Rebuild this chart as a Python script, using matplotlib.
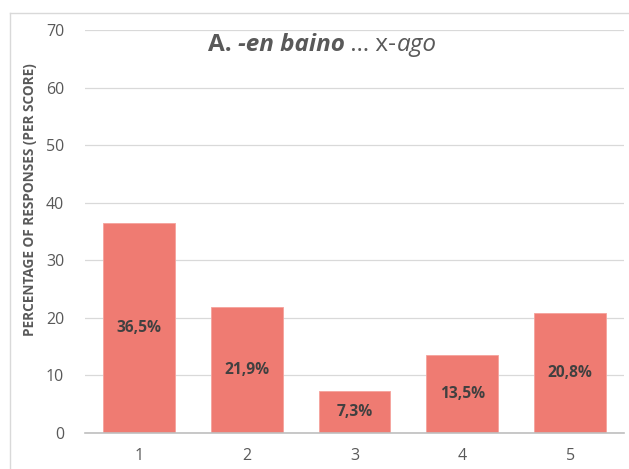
import matplotlib.pyplot as plt
from matplotlib.lines import Line2D

plt.rcParams["font.family"] = ["Open Sans", "DejaVu Sans"]

scores = ["1", "2", "3", "4", "5"]
percentages = [36.5, 21.9, 7.3, 13.5, 20.8]
bar_labels = ["36,5%", "21,9%", "7,3%", "13,5%", "20,8%"]
y_ticks = [0, 10, 20, 30, 40, 50, 60, 70]

TEXT_GREY = "#595959"
BAR_COLOR = "#EF7B72"


def main() -> None:
    fig = plt.figure(figsize=(6.29, 4.69), dpi=100)
    ax = fig.add_axes([0.1351, 0.0768, 0.8569, 0.8592])

    x = list(range(len(scores)))
    bars = ax.bar(x, percentages, width=0.667, color=BAR_COLOR,
                  edgecolor="#F5A29C", linewidth=0.6, zorder=2)

    for bar, label in zip(bars, bar_labels):
        ax.text(bar.get_x() + bar.get_width() / 2, bar.get_height() / 2,
                label, ha="center", va="center", fontsize=11.2,
                fontweight="bold", color="#404040", zorder=3)

    ax.set_xlim(-0.5, len(scores) - 0.5)
    ax.set_ylim(0, 70)
    ax.set_xticks(x)
    ax.set_xticklabels(scores)
    ax.set_yticks(y_ticks)
    ax.tick_params(axis="both", length=0, labelsize=11.5, colors=TEXT_GREY)
    ax.tick_params(axis="y", pad=15)
    ax.tick_params(axis="x", pad=11)

    ax.grid(axis="y", color="#D9D9D9", linewidth=0.9, zorder=0)
    for side in ("top", "right", "left"):
        ax.spines[side].set_visible(False)
    ax.spines["bottom"].set_color("#BFBFBF")
    ax.spines["bottom"].set_linewidth(1.2)
    ax.spines["bottom"].set_zorder(4)

    ax.set_ylabel("PERCENTAGE OF RESPONSES (PER SCORE)", fontsize=9.8,
                  fontweight="bold", color=TEXT_GREY)
    ax.yaxis.set_label_coords(-0.089, 0.578)

    # title with mixed weights / styles, placed piece by piece
    pieces = [
        ("A. ", "bold", "normal"),
        ("-en baino", "bold", "italic"),
        (" \u2026 x-", "normal", "normal"),
        ("ago", "normal", "italic"),
    ]
    renderer = fig.canvas.get_renderer()
    texts = []
    for s, weight, style in pieces:
        t = fig.text(0, 0.903, s, fontsize=17.5, fontweight=weight,
                     fontstyle=style, color=TEXT_GREY, va="center", ha="left")
        texts.append(t)
    widths = [t.get_window_extent(renderer).width for t in texts]
    total = sum(widths)
    x0 = 322 - total / 2
    for t, w in zip(texts, widths):
        t.set_x(x0 / fig.bbox.width)
        x0 += w

    # chart frame
    fig.add_artist(Line2D([10 / 629, 1.0], [1 - 13.5 / 469] * 2,
                          color="#D9D9D9", linewidth=1.0))
    fig.add_artist(Line2D([10 / 629] * 2, [0.0, 1 - 13.5 / 469],
                          color="#D9D9D9", linewidth=1.0))

    fig.savefig("out.png", dpi=100)
    plt.close(fig)


if __name__ == "__main__":
    main()
